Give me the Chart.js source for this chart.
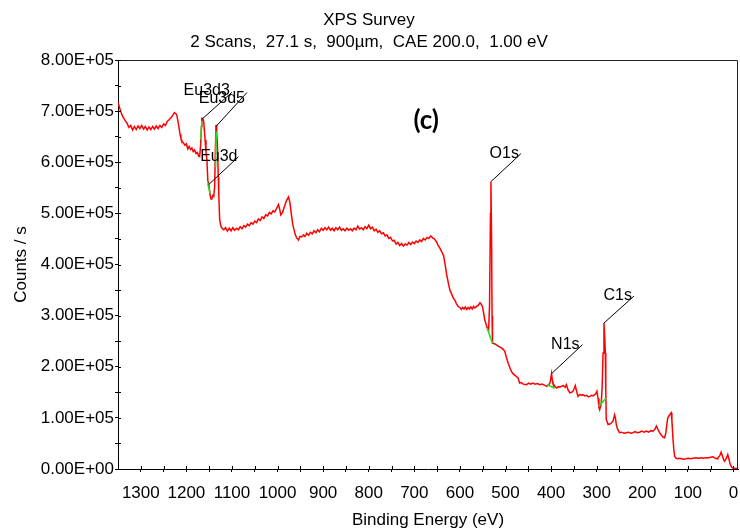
<!DOCTYPE html>
<html><head><meta charset="utf-8">
<script src="https://cdn.jsdelivr.net/npm/chart.js@4.4.1/dist/chart.umd.min.js"></script>
<style>html,body{margin:0;padding:0;background:#fff}#wrap{width:740px;height:531px}</style>
</head><body><div id="wrap"><canvas id="c" width="740" height="531"></canvas></div>
<script>
const titleLines = ['XPS Survey', '2 Scans,  27.1 s,  900µm,  CAE 200.0,  1.00 eV'];
const xAxisTitle = 'Binding Energy (eV)';
const yAxisTitle = 'Counts / s';
const panelLabel = '(c)';
const panelLabelPos = [674, 682000];
const xTickValues = [0,50,100,150,200,250,300,350,400,450,500,550,600,650,700,750,800,850,900,950,1000,1050,1100,1150,1200,1250,1300];
const yTickValues = [0,50000,100000,150000,200000,250000,300000,350000,400000,450000,500000,550000,600000,650000,700000,750000,800000];

const bindingEnergy = [
1350,1346,1341,1336,1330,1326,1322,1318,1314,1310,
1306,1302,1298,1294,1290,1286,1282,1278,1274,1270,
1266,1262,1258,1254,1250,1246,1242,1238,1232,1229,
1226,1223,1221,1217,1214,1212,1209,1206,1203,1200,
1197,1194,1191,1188,1185,1182,1179,1176,1173,1171,
1169,1167,1166,1164,1162,1159,1157,1155,1153,1150,
1148,1146,1144,1142,1140,1138,1136.5,1135,1133.5,1132,
1130,1129,1127,1124,1121,1118,1114,1110,1106,1102,
1098,1094,1090,1086,1082,1078,1074,1070,1066,1062,
1058,1054,1050,1046,1042,1038,1034,1030,1026,1022,
1018,1014,1010,1006,1002,998,995,993,989,985,
981,976,973,970,967,965,961,958,954,951,
947,943,940,936,932,928,924,920,916,912,
908,904,900,896,892,888,884,880,876,872,
868,864,860,856,852,848,844,840,836,832,
828,824,820,816,812,808,804,800,796,792,
788,784,780,776,772,768,764,760,756,752,
748,744,740,736,732,728,724,720,716,712,
708,704,700,696,692,688,684,680,676,672,
668,664,660,656,652,648,644,640,636,633,
629,625,622,618,615,611,608,604,600,597,
594,591,588,585,582,579,576,573,570,567,
563,559,556,553,550.5,548,545.5,543,540,537,
535,533,532,530.5,529.5,528.5,524,520,515,509,
505,501.6,498,494,490,487,483,479,475,472.5,
469,465,461,454,449,445,440,435,430,425,
420,415,410,405,402,399,397,396,392,388,
384,381,377,373,369,366.5,363,359,355,352,
349,347,344,341,337,333,330,326,322,318,
315,311,308,304.5,302,299.5,297,295,293.5,291.5,
290,288,286,284,282.5,281,280,279,277,275,
271,268,264,260.7,258.5,257,254,250,245,240,
235,230,225,220.5,216,211,206,201,196,191,
186,181,176.6,172,169,166,162,158,154,151,
148,146,144,140,136.5,135,133,131,129,126,
122,118,114,110,104,99,94,89,82,77,
71,66,60,55,50,45,40,36,34,30,
27,24,21,19.7,16,12.5,10,7,4,1.5,
-3,-6,-10
];
const countsPerSecond = [
717000,705000,692000,684000,676000,668000,672000,663000,670000,664000,
671000,666000,672000,665000,670000,663000,669000,664000,670000,665000,
671000,666000,672000,668000,675000,672000,680000,683000,689000,693000,
697000,695000,692000,673000,655000,647000,640000,637000,633000,636000,
626000,631000,625000,628000,621000,624000,617000,619000,612000,611000,
630000,670000,686000,685000,680000,644000,620000,605000,565000,552000,
536000,528000,530000,535000,533000,552000,620000,673000,655000,637000,
570000,539000,487000,474000,470000,468000,472000,465000,471000,466000,
472000,467000,471000,468000,474000,470000,476000,473000,479000,476000,
482000,479000,485000,482000,489000,486000,493000,490000,497000,495000,
502000,499000,505000,503000,510000,517000,507000,497000,502000,513000,
524000,532000,522000,500000,480000,472000,458000,452000,448000,455000,
454000,458000,455000,461000,457000,463000,460000,466000,462000,468000,
464000,471000,467000,472000,468000,473000,467000,471000,466000,472000,
468000,473000,467000,470000,466000,471000,467000,470000,466000,471000,
468000,475000,469000,472000,468000,474000,470000,477000,470000,473000,
466000,469000,463000,466000,460000,462000,456000,458000,451000,453000,
446000,447000,440000,443000,437000,441000,436000,440000,438000,443000,
439000,444000,441000,446000,443000,448000,445000,451000,448000,453000,
451000,456000,452000,450000,445000,438000,432000,425000,418000,403000,
380000,362000,350000,342000,335000,330000,324000,318000,316000,312000,
316000,313000,317000,312000,316000,313000,317000,313000,318000,315000,
318000,321000,325000,322000,318000,305000,292000,284000,276000,272000,
320000,500000,562000,450000,300000,246000,245000,243000,240000,237000,
234000,230000,218000,207000,197000,191000,186000,183000,180000,178000,
168000,169000,166000,165000,168000,166000,168000,166000,167000,165000,
166000,164000,162000,164000,170000,186500,172000,168000,162000,158500,
161000,160000,162000,163000,160000,165000,155000,149000,150000,152000,
158000,163000,152000,142000,146000,144000,145500,143000,144000,141000,
142000,144000,143000,145500,147000,152000,138000,120000,116000,122000,
129000,160000,227000,285500,260000,227000,150000,97000,92000,87000,
88000,90000,94000,106000,98000,87000,78000,71000,72000,70000,
71000,72000,70000,71000,73000,71000,72000,74000,72000,74000,
72000,75000,74000,78000,84000,78000,71000,66000,62000,61000,
72000,88000,100000,106000,110000,95000,64000,40000,25000,21000,
20000,21000,20000,19000,20000,21000,20000,21000,22000,21000,
22000,21000,22000,22000,23000,24000,21000,20000,22000,26000,
33000,25000,17000,15000,20000,28000,20000,9000,4000,2000,
1000,1000,1000
];

const peakNames  = ['Eu3d3', 'Eu3d5', 'Eu3d', 'O1s', 'N1s', 'C1s'];
const peakEnergy = [1166, 1135, 1151.5, 532, 399, 284];
const peakCounts = [684000, 670000, 556000, 562000, 186500, 285500];
// style: leader line end offset [dx, dy] and text offset from line end [tx, ty] (pixels)
const peakLabelStyle = [[30,-27,-2,-2],[31,-34,-2,6],[30,-28,-1,0],[30,-28,-2,-0.5],[31,-29,-3,-0.5],[30,-27,-2,0]];

const backgroundEnergy = [[1168.5,1166],[1136,1134.5],[1153,1148],[540.4,528.6],[409,392],[295.7,278.9]];
const backgroundCounts = [[645000,680000],[590000,660000],[559000,539000],[276000,246000],[165000,158500],[123000,139000]];

const FONT = "'Liberation Sans', Arial, sans-serif";

function sci(v){
  if (v === 0) return '0.00E+00';
  const e = Math.floor(Math.log10(Math.abs(v)) + 1e-9);
  const m = v / Math.pow(10, e);
  return m.toFixed(2) + 'E' + (e >= 0 ? '+' : '-') + String(Math.abs(e)).padStart(2, '0');
}

const datasets = [{
  data: bindingEnergy.map((x, i) => ({x, y: countsPerSecond[i]})),
  borderColor: '#ff0000', borderWidth: 1.5, pointRadius: 0, tension: 0, order: 2
}];
backgroundEnergy.forEach((xs, k) => {
  datasets.push({
    data: xs.map((x, i) => ({x, y: backgroundCounts[k][i]})),
    borderColor: '#22dd22', borderWidth: 1.6, pointRadius: 0, tension: 0, order: 1
  });
});

const decor = {
  id: 'decor',
  afterDraw(chart) {
    const {ctx, chartArea: a, scales: {x, y}} = chart;
    ctx.save();
    ctx.strokeStyle = '#222'; ctx.lineWidth = 1;
    ctx.beginPath();
    ctx.moveTo(Math.round(a.left) + 0.5, Math.round(a.top) + 0.5);
    ctx.lineTo(Math.round(a.right) - 0.5, Math.round(a.top) + 0.5);
    ctx.lineTo(Math.round(a.right) - 0.5, Math.round(a.bottom) + 0.5);
    ctx.stroke();
    ctx.strokeStyle = '#000';
    ctx.beginPath();
    xTickValues.forEach(v => {
      const px = Math.round(x.getPixelForValue(v)) + 0.5;
      ctx.moveTo(px, a.bottom); ctx.lineTo(px, a.bottom - 3);
    });
    yTickValues.forEach(v => {
      const py = Math.round(y.getPixelForValue(v)) + 0.5;
      ctx.moveTo(a.left, py); ctx.lineTo(a.left + 3, py);
    });
    ctx.stroke();
    ctx.font = '16px ' + FONT;
    ctx.fillStyle = '#000';
    ctx.textAlign = 'right';
    ctx.textBaseline = 'middle';
    peakNames.forEach((n, i) => {
      const px = x.getPixelForValue(peakEnergy[i]);
      const py = y.getPixelForValue(peakCounts[i]);
      const [dx, dy, tx, ty] = peakLabelStyle[i];
      ctx.beginPath();
      ctx.moveTo(px, py); ctx.lineTo(px + dx, py + dy);
      ctx.strokeStyle = '#000'; ctx.lineWidth = 1;
      ctx.stroke();
      ctx.fillText(n, px + dx + tx, py + dy + ty);
    });
    ctx.font = "bold 26px Lato, 'Open Sans', sans-serif";
    ctx.textAlign = 'center';
    ctx.fillText(panelLabel, x.getPixelForValue(panelLabelPos[0]), y.getPixelForValue(panelLabelPos[1]));
    ctx.restore();
  }
};

new Chart(document.getElementById('c'), {
  type: 'line',
  data: {datasets},
  plugins: [decor],
  options: {
    responsive: false, animation: false, devicePixelRatio: 1,
    layout: {padding: {left: 0, right: 2, top: 0, bottom: 0}},
    plugins: {
      legend: {display: false}, tooltip: {enabled: false},
      title: {display: true, text: titleLines, color: '#000',
        font: {family: FONT, size: 17, weight: 'normal', lineHeight: 22 / 17},
        padding: {top: 9, bottom: 7}}
    },
    scales: {
      x: {
        type: 'linear', reverse: true, min: -10, max: 1350,
        afterBuildTicks: s => { s.ticks = xTickValues.map(v => ({value: v})); },
        afterFit: s => { s.height = 62; },
        ticks: {autoSkip: false, maxRotation: 0, minRotation: 0, padding: 11.5, color: '#000',
          font: {family: FONT, size: 17}, callback: v => (v % 100 === 0 ? String(v) : '')},
        grid: {display: true, drawOnChartArea: false, drawTicks: true, tickLength: 3, color: '#000', lineWidth: 1},
        border: {display: true, color: '#000', width: 1},
        title: {display: true, text: xAxisTitle, color: '#000', font: {family: FONT, size: 17}, padding: {top: 0, bottom: 0}}
      },
      y: {
        type: 'linear', min: 0, max: 800000,
        afterBuildTicks: s => { s.ticks = yTickValues.map(v => ({value: v})); },
        afterFit: s => { s.width = 118; },
        ticks: {autoSkip: false, padding: 1, color: '#000', font: {family: FONT, size: 17},
          callback: v => (v % 100000 === 0 ? sci(v) : '')},
        grid: {display: true, drawOnChartArea: false, drawTicks: true, tickLength: 3, color: '#000', lineWidth: 1},
        border: {display: true, color: '#000', width: 1},
        title: {display: true, text: yAxisTitle, color: '#000', font: {family: FONT, size: 17}, padding: {top: 11.5, bottom: 0}}
      }
    }
  }
});
</script>
</body></html>
